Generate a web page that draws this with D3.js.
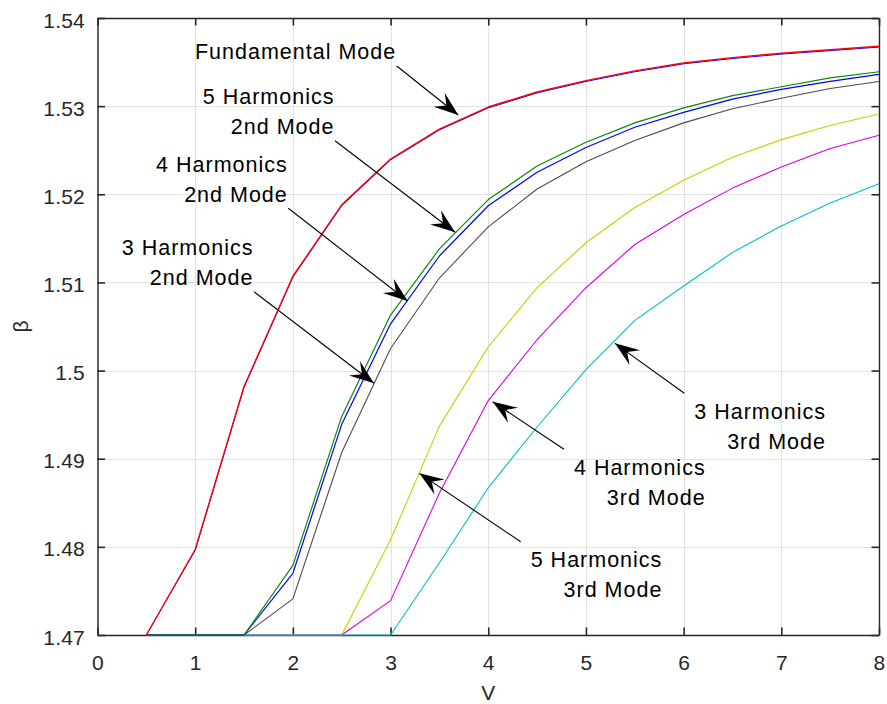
<!DOCTYPE html>
<html>
<head>
<meta charset="utf-8">
<script src="https://cdn.jsdelivr.net/npm/d3@7"></script>
<style>
  body { margin: 0; background: #fff; }
  svg { display: block; }
  text { font-family: "Liberation Sans", Arial, Helvetica, sans-serif; }
</style>
</head>
<body>
<svg id="chart" width="887" height="704"></svg>
<script>
// Normalised frequency V at which each propagation constant was computed
const vValues = [0.5, 1, 1.5, 2, 2.5, 3, 3.5, 4, 4.5, 5, 5.5, 6, 6.5, 7, 7.5, 8];

// Fundamental mode (reference and 4-harmonic solution lie on top of each other)
const fundamentalRef = [1.4700, 1.4797, 1.4982, 1.5107, 1.5188, 1.5240, 1.5274, 1.5299, 1.5316, 1.5329, 1.5340, 1.5349, 1.5355, 1.5360, 1.5364, 1.5368];
const fundamental4H  = [1.4700, 1.4796, 1.4981, 1.5106, 1.5187, 1.5239, 1.5273, 1.5298, 1.5315, 1.5328, 1.5339, 1.5348, 1.5354, 1.5359, 1.5363, 1.5367];

// Second mode
const secondMode5H = [1.4700, 1.4700, 1.4700, 1.4779, 1.4948, 1.5063, 1.5138, 1.5194, 1.5232, 1.5259, 1.5281, 1.5298, 1.5312, 1.5322, 1.5332, 1.5339];
const secondMode4H = [1.4700, 1.4700, 1.4700, 1.4770, 1.4939, 1.5053, 1.5130, 1.5187, 1.5225, 1.5253, 1.5276, 1.5293, 1.5308, 1.5319, 1.5328, 1.5336];
const secondMode3H = [1.4700, 1.4700, 1.4700, 1.4741, 1.4907, 1.5025, 1.5105, 1.5163, 1.5206, 1.5237, 1.5261, 1.5281, 1.5297, 1.5309, 1.5320, 1.5328];

// Third mode
const thirdMode5H = [1.4700, 1.4700, 1.4700, 1.4700, 1.4700, 1.4808, 1.4937, 1.5027, 1.5094, 1.5145, 1.5185, 1.5216, 1.5242, 1.5262, 1.5278, 1.5291];
const thirdMode4H = [1.4700, 1.4700, 1.4700, 1.4700, 1.4700, 1.4739, 1.4861, 1.4966, 1.5035, 1.5094, 1.5143, 1.5177, 1.5207, 1.5231, 1.5252, 1.5267];
const thirdMode3H = [1.4700, 1.4700, 1.4700, 1.4700, 1.4700, 1.4700, 1.4782, 1.4867, 1.4936, 1.5001, 1.5057, 1.5096, 1.5134, 1.5164, 1.5190, 1.5212];

// Axis ticks
const xTicks = [0, 1, 2, 3, 4, 5, 6, 7, 8];
const xTickLabels = ["0", "1", "2", "3", "4", "5", "6", "7", "8"];
const yTicks = [1.47, 1.48, 1.49, 1.50, 1.51, 1.52, 1.53, 1.54];
const yTickLabels = ["1.47", "1.48", "1.49", "1.5", "1.51", "1.52", "1.53", "1.54"];

// Text arrows: label lines, arrow tail and tip in (V, beta), and which side of the tail the text sits
const noteLines = [
  ["Fundamental Mode"],
  ["5 Harmonics", "2nd Mode"],
  ["4 Harmonics", "2nd Mode"],
  ["3 Harmonics", "2nd Mode"],
  ["3 Harmonics", "3rd Mode"],
  ["4 Harmonics", "3rd Mode"],
  ["5 Harmonics", "3rd Mode"]
];
const noteTails = [[3.063, 1.53455], [2.431, 1.52608], [1.953, 1.51841], [1.602, 1.50895], [6.007, 1.49742], [4.775, 1.49107], [4.332, 1.48058]];
const noteTips  = [[3.693, 1.52900], [3.660, 1.51569], [3.175, 1.50789], [2.830, 1.49856], [5.297, 1.50309], [4.045, 1.49647], [3.294, 1.48834]];
const noteSides = ["left", "left", "left", "left", "right", "right", "right"];

// ---- layout ----
const svg = d3.select("#chart");
const x = d3.scaleLinear().domain([0, 8]).range([97.5, 879]);
const y = d3.scaleLinear().domain([1.47, 1.54]).range([635, 18]);
const axisColor = "#262626";
const tickFont = "21px";

// grid
const grid = svg.append("g").attr("stroke", "#e2e2e2").attr("stroke-width", 1);
grid.selectAll("line.gx").data(xTicks).join("line")
  .attr("x1", d => Math.round(x(d)) + 0.5).attr("x2", d => Math.round(x(d)) + 0.5)
  .attr("y1", y(1.54)).attr("y2", y(1.47));
grid.selectAll("line.gy").data(yTicks).join("line")
  .attr("y1", d => Math.round(y(d)) + 0.5).attr("y2", d => Math.round(y(d)) + 0.5)
  .attr("x1", x(0)).attr("x2", x(8));

// axes with inward ticks on all four sides
function styleAxis(g) {
  g.select(".domain").attr("stroke", axisColor).attr("stroke-width", 1.4);
  g.selectAll(".tick line").attr("stroke", axisColor).attr("stroke-width", 1.6);
  g.selectAll(".tick text").attr("fill", axisColor).style("font-size", tickFont).style("letter-spacing", "0.2px");
}
svg.append("g").attr("transform", `translate(0,${y(1.47)})`)
  .call(d3.axisBottom(x).tickValues(xTicks).tickFormat((d, i) => xTickLabels[i]).tickSizeInner(-7.5).tickSizeOuter(0).tickPadding(20))
  .call(styleAxis);
svg.append("g").attr("transform", `translate(0,${y(1.54)})`)
  .call(d3.axisTop(x).tickValues(xTicks).tickFormat("").tickSizeInner(-7.5).tickSizeOuter(0))
  .call(styleAxis);
const yAxisG = svg.append("g").attr("transform", `translate(${x(0)},0)`)
  .call(d3.axisLeft(y).tickValues(yTicks).tickFormat((d, i) => yTickLabels[i]).tickSizeInner(-7.5).tickSizeOuter(0).tickPadding(12.5))
  .call(styleAxis);
yAxisG.selectAll(".tick text").attr("dy", "0.43em");
svg.append("g").attr("transform", `translate(${x(8)},0)`)
  .call(d3.axisRight(y).tickValues(yTicks).tickFormat("").tickSizeInner(-7.5).tickSizeOuter(0))
  .call(styleAxis);

// axis titles
svg.append("text").attr("x", (x(0) + x(8)) / 2).attr("y", 700)
  .attr("text-anchor", "middle").attr("fill", axisColor).style("font-size", tickFont).text("V");
svg.append("text").attr("transform", `translate(28,${(y(1.47) + y(1.54)) / 2}) rotate(-90)`)
  .attr("text-anchor", "middle").attr("fill", axisColor).style("font-size", tickFont).text("β");

// curves
const curves = [
  { values: thirdMode5H,   color: "#cccc00", width: 1.1 },
  { values: thirdMode4H,   color: "#dd00dd", width: 1.1 },
  { values: thirdMode3H,   color: "#00c0c8", width: 1.1 },
  { values: secondMode3H,  color: "#4d4d4d", width: 1.1 },
  { values: secondMode4H,  color: "#0000ff", width: 1.2 },
  { values: secondMode5H,  color: "#0a8a0a", width: 1.2 },
  { values: fundamental4H, color: "#0000ff", width: 1.0 },
  { values: fundamentalRef, color: "#ff0000", width: 1.4 }
];
const line = d3.line().x((d, i) => x(vValues[i])).y(d => y(d));
svg.append("g").selectAll("path").data(curves).join("path")
  .attr("d", d => line(d.values))
  .attr("fill", "none")
  .attr("stroke", d => d.color)
  .attr("stroke-width", d => d.width)
  .attr("stroke-linejoin", "round");

// text arrows
const notes = svg.append("g");
const headPath = "M0,0L-24.5,9L-15,0L-24.5,-9Z";
const noteFont = "21.5px", noteSpacing = 1.0, lineGap = 30;
noteLines.forEach((lines, k) => {
  const tx = x(noteTails[k][0]), ty = y(noteTails[k][1]);
  const px = x(noteTips[k][0]), py = y(noteTips[k][1]);
  notes.append("line").attr("x1", tx).attr("y1", ty).attr("x2", px).attr("y2", py)
    .attr("stroke", "#000").attr("stroke-width", 1.1);
  const ang = Math.atan2(py - ty, px - tx) * 180 / Math.PI;
  notes.append("path").attr("d", headPath).attr("fill", "#000")
    .attr("transform", `translate(${px},${py}) rotate(${ang})`);

  const g = notes.append("g");
  const texts = lines.map(s => g.append("text").attr("text-anchor", "end")
    .style("font-size", noteFont).style("letter-spacing", noteSpacing + "px")
    .attr("fill", "#000").text(s));
  let right, firstBase;
  if (noteSides[k] === "left") {
    right = tx - 1.5 + noteSpacing;
    firstBase = ty - 6.8 - lineGap * (lines.length - 1);
  } else {
    const w = texts[0].node().getComputedTextLength();
    right = tx + 10 + w;
    firstBase = ty + 25.7;
  }
  texts.forEach((t, i) => t.attr("x", right).attr("y", firstBase + i * lineGap));
});
</script>
</body>
</html>
